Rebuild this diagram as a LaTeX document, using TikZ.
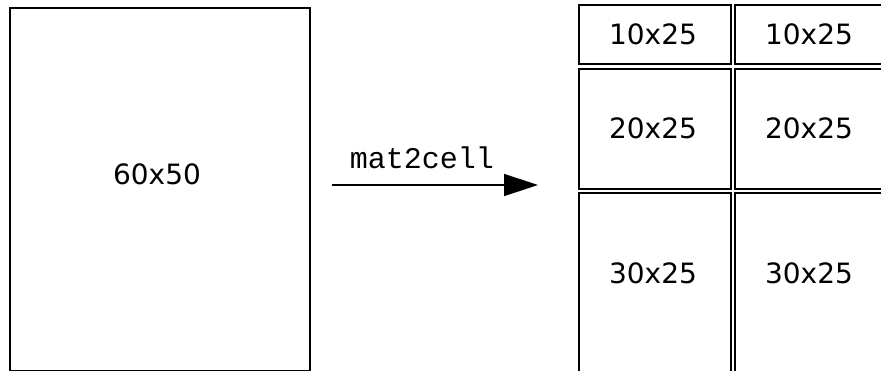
\documentclass[tikz,border=0pt]{standalone}
\usepackage{fontspec}
\setmainfont{DejaVu Sans}
\setmonofont{Liberation Mono}
\usetikzlibrary{positioning,arrows.meta}

\begin{document}
\begin{tikzpicture}[x=1pt,y=-1pt,
  block/.style={draw=black, line width=1.5pt},
  size/.style={font=\fontsize{28}{30}\selectfont, inner sep=0pt},
  fname/.style={font=\ttfamily\fontsize{30}{32}\selectfont, inner sep=0pt}]
  \useasboundingbox (0,0) rectangle (881,370);
  \clip (0,0) rectangle (881,370);
  % input matrix
  \draw[block] (10,8) rectangle (310,371);
  \node[size] (whole) at (157,174) {60x50};
  % arrow
  \coordinate (from) at (332,185);
  \coordinate (to) at (538,185);
  \draw[-{Triangle[length=34pt,width=22pt]}, line width=1.5pt] (from) -- (to);
  \node[fname, anchor=base] (fn) at (422,168) {mat2cell};
  % output cells
  \foreach \x/\col in {579/a, 735/b}{
    \foreach \ytop/\ybot/\ymid/\h in {5/64/34/10, 69/189/128/20, 193/380/273/30}{
      \draw[block] (\x,\ytop) rectangle (\x+152,\ybot);
      \node[size] (cell\col\h) at (\x+74,\ymid) {\h x25};
    }
  }
\end{tikzpicture}
\end{document}
